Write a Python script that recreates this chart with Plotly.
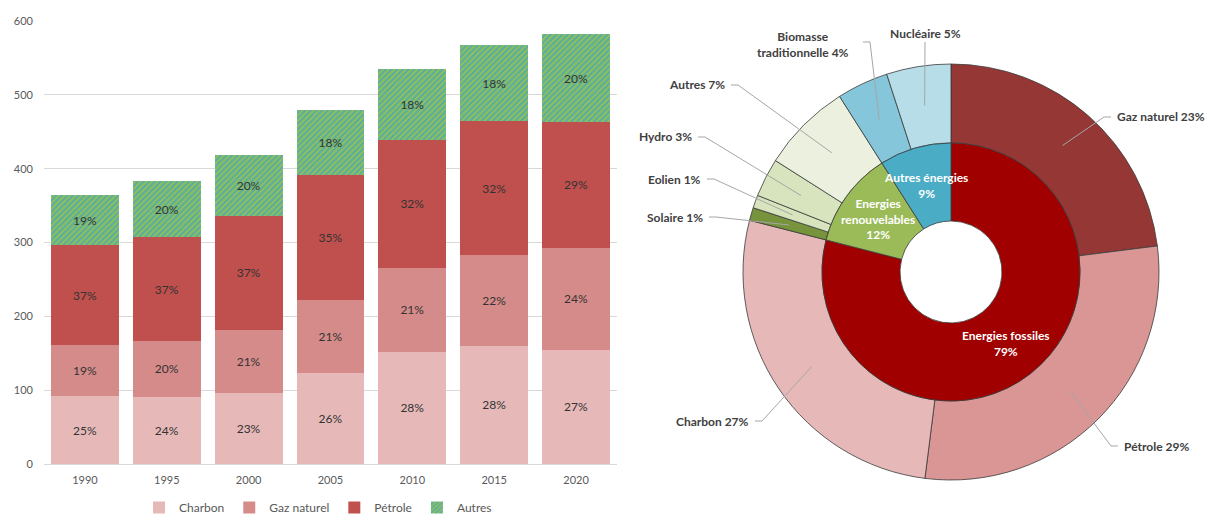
import math
import plotly.graph_objects as go

W, H = 1209, 514

# ---------------- data ----------------
years = ["1990", "1995", "2000", "2005", "2010", "2015", "2020"]
charbon = [92, 91, 96, 123, 152, 160, 155]
gaz_naturel = [69, 76, 86, 99, 114, 123, 138]
petrole = [135, 140, 154, 169, 173, 181, 170]
autres = [68, 76, 82, 88, 96, 103, 119]
y_ticks = [0, 100, 200, 300, 400, 500, 600]

mix_labels = ["Gaz naturel", "Pétrole", "Charbon", "Solaire", "Eolien", "Hydro",
              "Autres", "Biomasse traditionnelle", "Nucléaire"]
mix_values = [23, 29, 27, 1, 1, 3, 7, 4, 5]
mix_groups = ["Energies fossiles", "Energies fossiles", "Energies fossiles",
              "Energies renouvelables", "Energies renouvelables", "Energies renouvelables",
              "Energies renouvelables", "Autres énergies", "Autres énergies"]
group_labels = ["Energies fossiles", "Energies renouvelables", "Autres énergies"]
group_text = ["Energies fossiles", "Energies<br>renouvelables", "Autres énergies"]

# ---------------- styles ----------------
FONT = "Lato"
bar_colors = {"Charbon": "#E6B9B8", "Gaz naturel": "#D58B89", "Pétrole": "#C0504D"}
outer_colors = ["#953735", "#D99694", "#E6B9B8", "#77933C", "#D7E4BD", "#D7E4BD",
                "#EBF1DE", "#86C6DA", "#B7DEE8"]
inner_colors = ["#A00000", "#9BBB59", "#4BACC6"]

totals = [sum(v) for v in zip(charbon, gaz_naturel, petrole, autres)]


def pct(vals):
    return [f"{round(v / t * 100)}%" for v, t in zip(vals, totals)]


def px(x):
    return x / W


def py(y):
    return 1 - y / H


fig = go.Figure()

series = [("Charbon", charbon, dict(color=bar_colors["Charbon"])),
          ("Gaz naturel", gaz_naturel, dict(color=bar_colors["Gaz naturel"])),
          ("Pétrole", petrole, dict(color=bar_colors["Pétrole"])),
          ("Autres", autres, dict(color="#8FC159",
                                  pattern=dict(shape="/", bgcolor="#8FC159", fgcolor="#58ACA4",
                                               size=4, solidity=0.5, fillmode="replace")))]
for name, vals, mk in series:
    mk = dict(mk)
    mk["line"] = dict(width=0)
    fig.add_trace(go.Bar(
        x=years, y=vals, name=name, marker=mk,
        text=pct(vals), textposition="inside", insidetextanchor="middle", textangle=0,
        textfont=dict(family=FONT, size=12, color="#333333"),
        xaxis="x", yaxis="y",
    ))

# ---------------- donut ----------------
cx, cy = 951, 272
R_out, R_mid, R_in = 208, 129, 51

group_values = [sum(v for v, g in zip(mix_values, mix_groups) if g == gl) for gl in group_labels]

fig.add_trace(go.Pie(
    labels=mix_labels, values=mix_values, sort=False, direction="clockwise", rotation=0,
    hole=R_mid / R_out, textinfo="none", showlegend=False,
    marker=dict(colors=outer_colors, line=dict(color="#3A3A3A", width=0.8)),
    domain=dict(x=[px(cx - R_out), px(cx + R_out)], y=[py(cy + R_out), py(cy - R_out)]),
))
fig.add_trace(go.Pie(
    labels=group_labels, values=group_values, sort=False, direction="clockwise", rotation=0,
    hole=R_in / R_mid, textinfo="none", showlegend=False,
    marker=dict(colors=inner_colors, line=dict(color="#3A3A3A", width=0.8)),
    domain=dict(x=[px(cx - R_mid), px(cx + R_mid)], y=[py(cy + R_mid), py(cy - R_mid)]),
))


def polar(frac, r):
    a = 2 * math.pi * frac
    return cx + r * math.sin(a), cy - r * math.cos(a)


annotations = []
shapes = []

# inner labels
tot_g = sum(group_values)
cum = 0
for gl, gt, gv in zip(group_labels, group_text, group_values):
    mid = (cum + gv / 2) / tot_g
    cum += gv
    x, y = polar(mid, (R_in + R_mid) / 2)
    annotations.append(dict(x=px(x), y=py(y), xref="paper", yref="paper", showarrow=False,
                            xanchor="center", yanchor="middle",
                            text=f"<b>{gt}<br>{round(gv / tot_g * 100)}%</b>",
                            font=dict(family=FONT, size=12, color="white")))

# outer labels: text position and anchor
label_pos = {
    "Gaz naturel": (1115, 117, "left"),
    "Pétrole": (1122, 446, "left"),
    "Charbon": (751, 421, "right"),
    "Solaire": (705, 217, "right"),
    "Eolien": (703, 179, "right"),
    "Hydro": (694, 137, "right"),
    "Autres": (727, 85, "right"),
    "Biomasse traditionnelle": (803, 44, "center"),
    "Nucléaire": (925, 33, "center"),
}
tot_m = sum(mix_values)
cum = 0
for lab, v in zip(mix_labels, mix_values):
    mid = (cum + v / 2) / tot_m
    cum += v
    tx, ty = polar(mid, (R_mid + R_out) / 2)
    lx, ly, anc = label_pos[lab]
    p = round(v / tot_m * 100)
    txt = f"<b>{lab} {p}%</b>"
    if lab == "Biomasse traditionnelle":
        txt = f"<b>Biomasse<br>traditionnelle {p}%</b>"
    annotations.append(dict(x=px(lx), y=py(ly), xref="paper", yref="paper", showarrow=False,
                            text=txt, xanchor=anc, yanchor="middle", align="center",
                            font=dict(family=FONT, size=12, color="#404040")))
    if anc == "left":
        pts = [(lx - 4, ly), (lx - 11, ly), (tx, ty)]
    elif anc == "right":
        pts = [(lx + 4, ly), (lx + 11, ly), (tx, ty)]
    elif lab == "Nucléaire":
        pts = [(lx, ly + 9), (tx, ty)]
    else:
        pts = [(lx + 60, ly - 2), (lx + 67, ly - 2), (tx, ty)]
    path = "M " + " L ".join(f"{px(a):.5f},{py(b):.5f}" for a, b in pts)
    shapes.append(dict(type="path", xref="paper", yref="paper", path=path,
                       line=dict(color="#A6A6A6", width=1)))

fig.update_layout(
    width=W, height=H,
    margin=dict(l=0, r=0, t=0, b=0, pad=0, autoexpand=False),
    paper_bgcolor="white", plot_bgcolor="white",
    barmode="stack", bargap=0.17,
    font=dict(family=FONT, size=11, color="#595959"),
    xaxis=dict(domain=[px(44), px(617)], showgrid=False, showline=False, ticks="",
               tickfont=dict(size=11, color="#595959"), ticklabelstandoff=8, automargin=False),
    yaxis=dict(domain=[py(464), py(21)], range=[0, 600], tickvals=y_ticks,
               showgrid=True, gridcolor="#D9D9D9", gridwidth=1,
               zeroline=True, zerolinecolor="#D9D9D9", zerolinewidth=1,
               showline=False, ticks="", tickfont=dict(size=11, color="#595959"),
               ticklabelstandoff=10, automargin=False),
    legend=dict(orientation="h", x=px(318), xanchor="center", y=py(522), yanchor="bottom",
                font=dict(size=12, color="#595959"), itemwidth=30, tracegroupgap=0,
                traceorder="normal", bgcolor="rgba(0,0,0,0)"),
    annotations=annotations,
    shapes=shapes,
    uniformtext=dict(minsize=12, mode="show"),
)

fig.write_html("out.html")
